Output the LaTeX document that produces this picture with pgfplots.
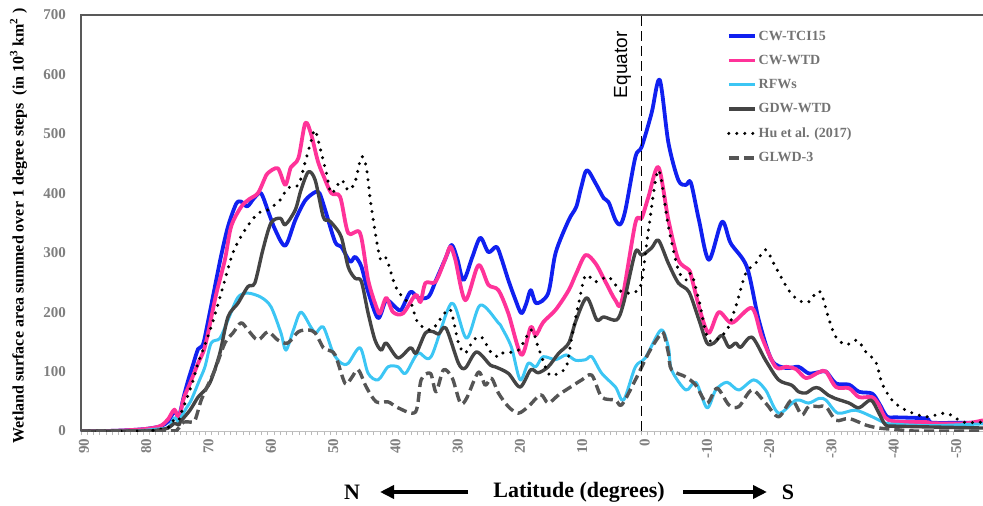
\documentclass[border=0pt]{standalone}
\usepackage{fontspec}
\setmainfont{Liberation Serif}
\newfontfamily\arialfont{Liberation Sans}
\usepackage{pgfplots}
\pgfplotsset{compat=1.18}
\usetikzlibrary{arrows.meta}

\definecolor{cwtci}{HTML}{1020F0}
\definecolor{cwwtd}{HTML}{FF3399}
\definecolor{rfw}{HTML}{3CC6F4}
\definecolor{gdw}{HTML}{444444}
\definecolor{glwd}{HTML}{555555}
\definecolor{tickgray}{HTML}{7F7F7F}
\definecolor{leggray}{HTML}{737373}
\definecolor{axgray}{HTML}{595959}

\newcommand\tickfont{\fontsize{15}{18}\selectfont\bfseries}
\newcommand\legfont{\fontsize{14}{16}\selectfont\bfseries}

\begin{document}
\begin{tikzpicture}
\begin{axis}[
  at={(0pt,0pt)}, anchor=south west,
  scale only axis, width=902pt, height=416pt,
  x dir=reverse,
  xmin=-54.8, xmax=90, ymin=0, ymax=700,
  clip mode=individual,
  axis line style={draw=none},
  xtick={90,80,...,-50}, minor x tick num=9,
  ytick={0,100,...,700},
  tick align=outside,
  xtick pos=left, ytick pos=left,
  major tick length=4pt, minor tick length=4pt,
  xtick style={color=gray!55, line width=0.8pt},
  ytick style={draw=none},
  /pgf/number format/assume math mode=true,
  ticklabel style={font=\tickfont, text=tickgray},
  xticklabel style={rotate=90, anchor=east, yshift=-3pt},
  yticklabel style={anchor=east, inner sep=0pt},
  yticklabel shift=11pt,
  legend style={at={(axis cs:-13.65,677)}, anchor=north west,
    draw=none, fill=none, font=\legfont, text=leggray,
    inner sep=0pt, row sep=9.5pt, cells={anchor=west}},
  legend image code/.code={\draw[#1] (0pt,0pt) -- (26pt,0pt);},
  every axis plot/.append style={smooth, tension=0.5, line join=round},
]
\draw[gray!50, line width=1pt] (axis cs:90,0) -- (axis cs:-54.8,0);

% CW-TCI15
\addplot[cwtci, line width=3.8pt] coordinates {
(90,0) (86,0) (83,1) (80,3) (78,6) (77,9) (76,16) (75,33) (74.3,24) (73.5,58)
(72.8,85) (72,112) (71.2,138) (70.4,146) (69.5,190) (68.5,243) (67.5,295) (66.4,344)
(65.1,382) (64.3,386) (63.3,378) (62.2,392) (61.1,400) (59.9,368) (58.8,338) (57.2,312)
(55.6,355) (54,388) (52.4,402) (51.7,400) (50.8,372) (49.2,318) (48.2,310) (46.8,285)
(46,293) (45,277) (43.9,234) (42.3,190) (41,220) (39.5,208) (38.6,204) (37.1,234)
(35.9,224) (34.2,226) (33,254) (31.5,290) (30.5,313) (29.6,290) (28.6,254) (27.2,292)
(25.9,325) (24.6,301) (23.3,310) (22.5,290) (21.4,254) (20.3,222) (19.3,198) (18.5,215)
(17.8,237) (16.9,215) (15,232) (13.8,300) (11.7,355) (10.5,377) (9.7,410) (8.8,439)
(7.4,417) (6.1,392) (5.3,385) (4.2,355) (3.4,348) (2.6,372) (1,461) (0,478)
(-1.6,535) (-2.9,591) (-4.3,485) (-5.9,422) (-7.1,414) (-7.9,418) (-9.2,355) (-10.8,288)
(-12.9,352) (-14.3,316) (-16.9,276) (-18.8,187) (-20.9,119) (-23.2,106) (-25.2,108)
(-26.8,97) (-28.5,99) (-29.6,100) (-31.2,80) (-33.3,78) (-34.9,66) (-37,63) (-38.1,47)
(-39.4,24) (-40.8,23) (-45.7,21) (-46.6,14) (-52,14) (-54.8,14)
};
\addlegendentry{CW-TCI15}

% CW-WTD
\addplot[cwwtd, line width=3.8pt] coordinates {
(90,0) (86,0) (83,1) (80,3) (78,6) (77,10) (76,20) (75,36) (74.3,22) (73.5,55)
(72.5,80) (71.2,114) (70.3,135) (69.6,165) (68.3,230) (66.9,288) (65.9,344) (64.3,377)
(63,390) (61.6,400) (60.5,425) (60,434) (58.4,442) (57.2,414) (56.3,444) (55.1,459)
(54,518) (53.1,501) (52,455) (51.1,430) (49.8,400) (48.4,394) (47.1,333) (45.2,333)
(43.9,254) (42.6,209) (42,198) (41,224) (39.9,200) (38.3,198) (36.3,229) (35.5,217)
(34.7,249) (33.1,251) (31.5,290) (30.7,310) (29.9,288) (28.3,220) (26.2,279) (24.6,246)
(23,237) (21.4,198) (19.3,128) (17.8,175) (17,161) (15.8,183) (13.8,204) (11.7,237)
(10.5,265) (9,296) (7.4,282) (5.8,251) (4.2,220) (3.2,218) (1,350) (0,358)
(-1.1,394) (-2.7,444) (-4.3,355) (-5.9,288) (-7.6,271) (-8,259) (-9.5,198) (-10.8,165)
(-12.4,200) (-14.5,182) (-17.7,207) (-19.3,158) (-21.5,108) (-23.2,108) (-24.8,104)
(-26.4,89) (-28.5,99) (-29.6,100) (-31.2,74) (-33.3,72) (-34.9,57) (-37,57) (-38.1,44)
(-39.7,18) (-45.7,15) (-46.6,13) (-52,13) (-54.8,18)
};
\addlegendentry{CW-WTD}

% RFWs
\addplot[rfw, line width=3pt] coordinates {
(90,0) (82,0) (80,1) (78,3) (76,6) (75,22) (74.3,15) (74,22) (73,40) (72.3,52)
(71,85) (70.1,108) (69.1,148) (67.7,156) (66.4,187) (64.8,225) (63.2,232) (61.1,225)
(59.5,209) (57.9,165) (57.1,136) (55.9,170) (54.7,200) (53.1,175) (52.3,165) (51.1,175)
(49.5,131) (48.2,114) (47.1,114) (45.2,140) (43.9,97) (42.3,86) (40.7,108) (39.1,108)
(37.9,97) (35.9,131) (33.8,125) (30.5,215) (28.1,156) (25.9,212) (23,182) (22.5,175)
(20.9,141) (19.5,86) (18.2,114) (17,108) (15.8,125) (13.8,120) (12.1,128) (10.6,119)
(9,120) (8,125) (6.4,97) (4.2,74) (2.9,52) (1,108) (-0.6,123) (-3.1,170) (-4.3,141)
(-4.8,103) (-7.1,69) (-8.7,82) (-10.5,39) (-11.9,69) (-13.7,82) (-15.6,69) (-18,86)
(-19.9,69) (-22,30) (-24.8,52) (-26.8,47) (-28.5,55) (-29.6,52) (-31.5,30) (-34.3,35)
(-37,24) (-39.2,13) (-41.2,11) (-46.6,9) (-54.8,12)
};
\addlegendentry{RFWs}

% GDW-WTD
\addplot[gdw, line width=3.4pt] coordinates {
(90,0) (80,0) (78,1) (76,5) (75,13) (74.3,10) (74,16) (72.5,35) (71.2,57) (70,70)
(69.1,86) (67.7,131) (66.4,192) (64.8,215) (63.2,243) (62.1,249) (60.8,305) (59.5,350)
(58,358) (57.2,347) (55.6,372) (54.7,405) (53.5,436) (52.4,422) (51.1,360) (50.3,355)
(49.5,347) (48.2,326) (47.1,276) (46,257) (45,252) (43.9,198) (42.8,153) (41.8,136)
(41,148) (39.1,123) (37.1,140) (36.2,131) (34.7,165) (33.4,167) (32.6,163) (31.4,173)
(29.4,114) (28.3,106) (26.5,133) (24.3,111) (23.5,108) (21.4,97) (19.5,74) (17.8,103)
(16.6,98) (15,108) (13.3,131) (11.7,148) (10.5,187) (8.8,224) (7.2,187) (6.1,192)
(4,187) (2.9,215) (1,301) (0,296) (-1.6,308) (-2.7,321) (-4.3,282) (-5.9,249)
(-7.6,234) (-9.2,187) (-10.5,148) (-11.6,148) (-12.9,161) (-14,141) (-15.1,148)
(-15.9,141) (-17.7,158) (-19.9,119) (-22,86) (-24.1,77) (-25.2,66) (-26.4,64)
(-27.6,72) (-28.5,72) (-30,60) (-31,55) (-33.3,47) (-34.9,39) (-36.8,52) (-38.1,30)
(-39.2,10) (-41.2,8) (-54.8,5)
};
\addlegendentry{GDW-WTD}

% Hu et al. (2017)
\addplot[black, line width=3.4pt, line cap=round, dash pattern=on 0pt off 8pt] coordinates {
(90,0) (80,0) (78,2) (76,6) (75,20) (74.3,18) (74,28) (73,55) (72,85) (71.2,114)
(69.1,175) (67.2,243) (65.6,300) (63.7,338) (61.6,366) (60,372) (58,389) (56.8,409)
(55.1,414) (54,453) (53,490) (52.4,506) (51.4,467) (50.6,434) (49.8,400) (48.2,422)
(47.1,405) (46,419) (45,461) (44.2,444) (43.4,377) (42,291) (41,291) (39.5,243)
(37.9,220) (37,215) (35.9,182) (33.8,170) (32.2,190) (30.7,204) (29.4,148) (28.3,131)
(27,153) (25.7,158) (24.1,131) (23,125) (22.5,131) (19.8,136) (17.7,170) (16.6,141)
(15,97) (13.8,95) (12.1,108) (11.3,153) (10.1,215) (9,262) (7.4,251) (5.3,259)
(3.2,234) (1,234) (0,251) (-1.1,338) (-2.7,439) (-4.3,344) (-5.9,271) (-7.2,254)
(-8,265) (-9.2,220) (-10.8,153) (-13.5,167) (-15.1,209) (-16.7,265) (-18.3,282)
(-19.9,305) (-21.5,276) (-23.6,237) (-25.2,220) (-26.8,217) (-28.1,234) (-28.9,230)
(-30.1,187) (-31.2,158) (-32.8,145) (-34.6,153) (-36,133) (-37.6,116) (-38.6,80)
(-40.2,52) (-42.4,35) (-45.7,24) (-48.9,30) (-51.6,15) (-54.8,15)
};
\addlegendentry{Hu et al. (2017)}

% GLWD-3
\addplot[glwd, line width=3.4pt, dash pattern=on 10pt off 5pt] coordinates {
(90,0) (76,0) (74.5,3) (73.5,15) (72.5,15) (71.7,18) (70.7,52) (69.5,80) (68.5,103)
(66.9,148) (65.6,165) (64.3,182) (63.2,170) (61.6,153) (60,167) (58.4,153) (56.8,148)
(55.1,167) (53.5,170) (52.4,165) (51.1,140) (50.3,136) (49.2,128) (47.6,80) (46.6,89)
(45.5,103) (44.2,74) (42.6,49) (40.7,49) (39.1,39) (36.3,32) (35.4,86) (33.9,97)
(33,66) (31.8,103) (30.4,89) (29.1,47) (28.1,55) (26.2,99) (25.1,77) (24.1,89) (23,64)
(21.4,41) (19.8,30) (18.2,41) (16.2,61) (15,47) (13.3,61) (11.4,74) (9.6,86) (8,94)
(6.4,57) (4.2,52) (3.2,44) (1,86) (-1.1,131) (-2.7,158) (-3.5,165) (-4.3,131)
(-4.8,103) (-7.1,91) (-8.7,77) (-10.5,47) (-12.1,72) (-14,44) (-15.6,41) (-17.7,69)
(-19.9,47) (-22,24) (-24.1,52) (-25.7,27) (-26.8,41) (-28.5,41) (-29.6,41) (-31.2,18)
(-33.3,21) (-36,10) (-38.1,5) (-41.2,2) (-44,0) (-54.8,0)
};
\addlegendentry{GLWD-3}

\draw[black, line width=1.6pt, dash pattern=on 10pt off 5pt] (axis cs:0,0) -- (axis cs:0,700);
\node[rotate=90, font=\arialfont\fontsize{19}{19}\selectfont] at (axis cs:3.05,616) {Equator};
\draw[axgray, line width=1.6pt] (axis cs:90,0) -- (axis cs:90,700) -- (axis cs:-54.8,700);
\end{axis}

\node[rotate=90, font=\fontsize{16}{18}\selectfont\bfseries] at (-62.5pt,205pt)
  {Wetland surface area summed over 1 degree steps~~(in 10\textsuperscript{3} km\textsuperscript{2}~)};
\node[font=\fontsize{22}{24}\selectfont\bfseries] at (271pt,-61pt) {N};
\node[font=\fontsize{22}{24}\selectfont\bfseries] at (498pt,-61pt) {Latitude (degrees)};
\node[font=\fontsize{22}{24}\selectfont\bfseries] at (707pt,-61pt) {S};
\draw[line width=4pt, -{Triangle[length=14pt, width=13pt]}] (387pt,-61pt) -- (299pt,-61pt);
\draw[line width=4pt, -{Triangle[length=14pt, width=13pt]}] (602pt,-61pt) -- (686pt,-61pt);

\pgfresetboundingbox
\path[use as bounding box] (-81pt,-75pt) rectangle (902pt,431pt);
\end{tikzpicture}
\end{document}
